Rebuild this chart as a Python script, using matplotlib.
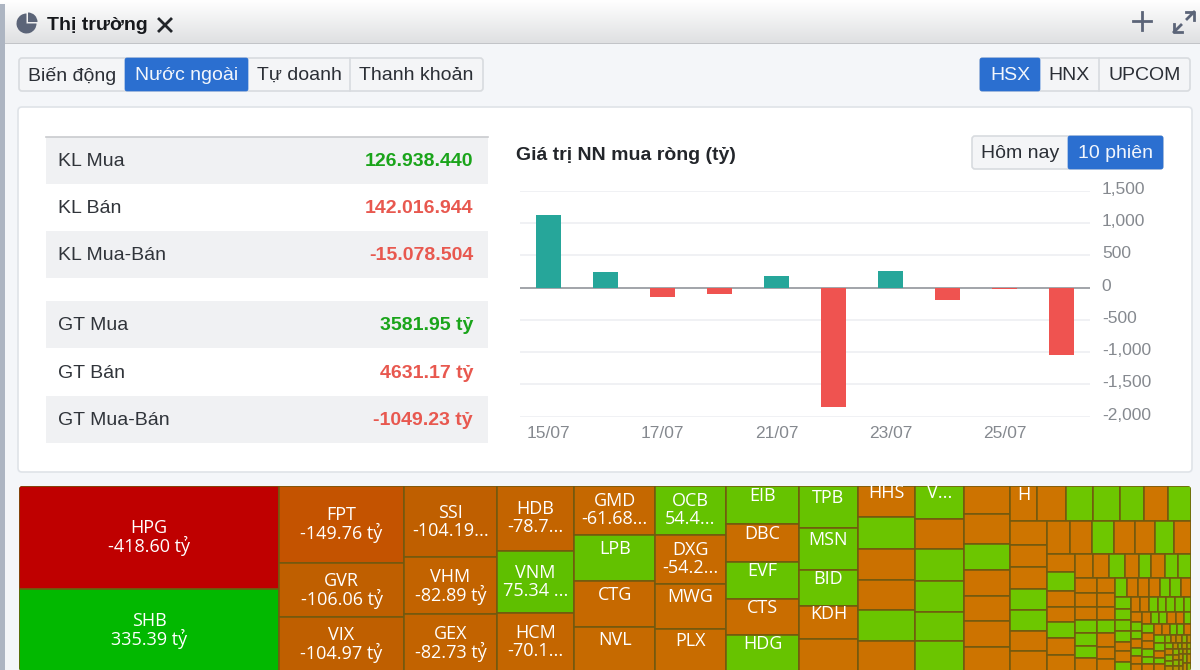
import numpy as np
import matplotlib
matplotlib.use('Agg')
import matplotlib.pyplot as plt
from itertools import zip_longest
from matplotlib.colors import LinearSegmentedColormap
from matplotlib.patches import FancyBboxPatch, Rectangle, Wedge
from matplotlib.transforms import ScaledTranslation

plt.rcParams['font.family'] = ['Liberation Sans', 'DejaVu Sans']

# net foreign value by session
session_dates = ['15/07', '16/07', '17/07', '18/07', '21/07', '22/07', '23/07', '24/07', '25/07', '28/07']
net_values = [1120, 237, -145, -93, 186, -1853, 253, -196, -30, -1049]
y_ticks = [1500, 1000, 500, 0, -500, -1000, -1500, -2000]
y_tick_labels = ['1,500', '1,000', '500', '0', '-500', '-1,000', '-1,500', '-2,000']

# summary table
table_labels = ['KL Mua', 'KL Bán', 'KL Mua-Bán', 'GT Mua', 'GT Bán', 'GT Mua-Bán']
table_values = ['126.938.440', '142.016.944', '-15.078.504', '3581.95 tỷ', '4631.17 tỷ', '-1049.23 tỷ']

market_tabs = ['Biến động', 'Nước ngoài', 'Tự doanh', 'Thanh khoản']
exchange_tabs = ['HSX', 'HNX', 'UPCOM']
range_tabs = ['Hôm nay', '10 phiên']

# treemap: signed value per cell, grouped in strips. 'c' strips fill the left of
# what is left, 'r' strips fill the top of what is left
strip_values = [
    [-418.60, 335.39],
    [-149.76, -106.06, -104.97],
    [-104.19, -82.89, -82.73],
    [-78.7, 75.34, -70.1],
    [-61.68, 58, -58, -56],
    [54.4, -54.2, -50, -47],
    [43.5, -43.5, 43, -41.5, 41],
    [38.4, 38.4, 33, -30, -29],
    [-28, 29, -28, -27, 28, -27],
    [25, -23, 24.5, 23.5, 22, 23],
    [-20.5, -21.2, 18.4, -19, -18, -18.7, -17.3],
    [-15.2, -15.8, 15, 14.7, 13.6, -13.2, 12.7],
    [-13.7, -12.8, -13.1, 12.2, 12.2, -11.9, -11.6],
    [-11.7, -11.1, 11.1, -10.6, -10.6, 9.7, -8.4],
    [-7.9, 8.3, -7.2, -6.8, 7, -7.4, -7],
    [-6.6, -6.2, 6.2, -5.1, 4.9, -5.3, 4.9, 4.9],
    [-5, -4.7, -4.3, 4.3, 4.4, 4.2, -4.3],
    [-4.3, -4, -3.7, 3.7, -4.2, -3.4, -3.5],
    [3.5, -3.2, -3.4, -3.4, 3, 3.2, -3],
    [2.76, 2.67, 2.67, 2.6, -2.3, -2.6, 2.2],
    [-2.1, -2.2, 2.1, 2, 2.1, 2, 1.7],
    [-1.8, 1.5, 1.5, -1.5, 1.6, -1.3, -1.3],
    [-1.7, 1.5, 1.5, -1.6, -1.5, 1.4],
    [1.7, -1.6, -1.6, 1.5, 1.4, -1.3],
    [-1.3, -1.25, 1.2, 1.2, -1.1],
    [1.3, 1.3, -1.2, 1.1, -1.1],
    [0.7, -0.7, -0.65, 0.6, -0.55],
    [0.8, -0.75, 0.7, 0.7, -0.62],
    [-0.48, 0.46, -0.44, 0.42],
    [0.5, -0.48, 0.47, -0.45],
    [0.33, -0.31, 0.3],
    [-0.38, 0.36, -0.33],
    [0.55, -0.55],
    [-0.55, 0.52],
]
strip_dirs = list('ccccccccccc' + 'rcrcrcc' + 'rcrcrcrcrcrcrc' + 'cc')
strip_names = [
    ['HPG', 'SHB'],
    ['FPT', 'GVR', 'VIX'],
    ['SSI', 'VHM', 'GEX'],
    ['HDB', 'VNM', 'HCM'],
    ['GMD', 'LPB', 'CTG', 'NVL'],
    ['OCB', 'DXG', 'MWG', 'PLX'],
    ['EIB', 'DBC', 'EVF', 'CTS', 'HDG'],
    ['TPB', 'MSN', 'BID', 'KDH'],
    ['HHS'],
    ['V...'],
    [],
    ['H'],
]
value_text = {
    'HPG': '-418.60 tỷ', 'SHB': '335.39 tỷ', 'FPT': '-149.76 tỷ', 'GVR': '-106.06 tỷ',
    'VIX': '-104.97 tỷ', 'SSI': '-104.19...', 'VHM': '-82.89 tỷ', 'GEX': '-82.73 tỷ',
    'HDB': '-78.7...', 'VNM': '75.34 ...', 'HCM': '-70.1...', 'GMD': '-61.68...',
    'OCB': '54.4...', 'DXG': '-54.2...',
}

GREEN = '#1aa41a'
RED = '#e8584f'
BLUE = '#2b6fd0'
DARK = '#2b2f36'
ICON = '#5b6478'
TM_FONT = ['Open Sans', 'DejaVu Sans']

fig = plt.figure(figsize=(12, 6.7), dpi=100, facecolor='#f4f6f9')

# whole page in pixel coordinates, y going down
ax = fig.add_axes([0, 0, 1, 1])
ax.set_axis_off()
ax.imshow(np.linspace(1, 0, 64).reshape(-1, 1), extent=[0, 1200, 43, 0], aspect='auto',
          cmap=LinearSegmentedColormap.from_list('bar', ['#dfe0e2', '#ffffff']), zorder=0)
ax.set_xlim(0, 1200)
ax.set_ylim(670, 0)
ax.add_patch(Rectangle((0, 42.5), 1200, 1.5, fc='#c2c4c8', ec='none', zorder=1))
ax.add_patch(Rectangle((0, 4), 4.5, 666, fc='#adb5c2', ec='none', zorder=1))


def label(x, y, s, size=14, color=DARK, ha='left', weight='normal', family=None, z=5):
    return ax.text(x, y, s, fontsize=size, color=color, ha=ha, va='center_baseline',
                   fontweight=weight, family=family, zorder=z)


def button_group(edges, names, active, y0=58, y1=91):
    ax.add_patch(FancyBboxPatch((edges[0], y0), edges[-1] - edges[0], y1 - y0,
                                boxstyle='round,pad=0,rounding_size=3', fc='#f4f5f7', ec='#d8dbdf', lw=1.2, zorder=2))
    for i, name in enumerate(names):
        if i == active:
            ax.add_patch(FancyBboxPatch((edges[i], y0), edges[i + 1] - edges[i], y1 - y0,
                                        boxstyle='round,pad=0,rounding_size=2', fc=BLUE, ec=BLUE, lw=0.5, zorder=3))
        elif i > 0 and i - 1 != active:
            ax.plot([edges[i]] * 2, [y0, y1], color='#d8dbdf', lw=1.2, zorder=3)
        label((edges[i] + edges[i + 1]) / 2, (y0 + y1) / 2 - 0.7, name, ha='center',
              color='#f2f6fc' if i == active else DARK)


# title bar
ax.add_patch(Wedge((26.5, 23.5), 10, 0, 270, fc=ICON, ec='none', zorder=3))
ax.add_patch(Wedge((28, 22), 9.5, 270, 360, fc=ICON, ec='none', zorder=3))
label(47, 24, 'Thị trường', weight='bold', color='#16181c')
ax.plot([159, 171], [19, 31], color='#22252a', lw=2, zorder=3)
ax.plot([159, 171], [31, 19], color='#22252a', lw=2, zorder=3)
ax.plot([1133, 1151], [21, 21], color=ICON, lw=2, zorder=3)
ax.plot([1142, 1142], [12, 30], color=ICON, lw=2, zorder=3)
ax.plot([1186, 1194, 1194], [12, 12, 20], color=ICON, lw=2, zorder=3)
ax.plot([1194, 1187], [12, 19], color=ICON, lw=2, zorder=3)
ax.plot([1174, 1174, 1182], [24, 32, 32], color=ICON, lw=2, zorder=3)
ax.plot([1174, 1181], [32, 25], color=ICON, lw=2, zorder=3)

button_group([19, 125, 248, 350, 483], market_tabs, 1)
button_group([980, 1040, 1099, 1190], exchange_tabs, 0)

# white panel
ax.add_patch(FancyBboxPatch((18, 107), 1174, 365, boxstyle='round,pad=0,rounding_size=4',
                            fc='white', ec='#dfe3e8', lw=1.2, zorder=1))

# table
row_tops = [137, 184, 231, 301, 349, 396]
row_h = 47
ax.plot([46, 488], [137, 137], color='#c9cbce', lw=1.2, zorder=3)
for i, (name, val) in enumerate(zip(table_labels, table_values)):
    if i != 1 and i != 4:
        ax.add_patch(Rectangle((46, row_tops[i]), 442, row_h, fc='#f0f1f3', ec='none', zorder=2))
    yc = row_tops[i] + row_h / 2 - 0.7
    label(58, yc, name, color='#30343a')
    label(473, yc, val, ha='right', weight='bold', color=GREEN if i in (0, 3) else RED)

# chart header and range toggle
label(516, 153, 'Giá trị NN mua ròng (tỷ)', weight='bold', color='#23262b')
button_group([972, 1068, 1163], range_tabs, 1, y0=136, y1=169)

# treemap, every cell from the strip values
tm_x, tm_y, tm_w, tm_h = 19.0, 486.0, 1172.0, 185.0
k = tm_w * tm_h / sum(abs(v) for s in strip_values for v in s)
tm_clip = FancyBboxPatch((tm_x, tm_y), tm_w, tm_h, boxstyle='round,pad=0,rounding_size=4',
                         fc='#71590f', ec='none', zorder=2)
ax.add_patch(tm_clip)
vmin, vmax = -420.0, 340.0
stops = [(-420, '#bf0000'), (-150, '#c45300'), (-105, '#bf5f00'), (-70, '#c46600'), (-1, '#d07800'),
         (1, '#70c800'), (75, '#5fbf00'), (340, '#00b800')]
cmap = LinearSegmentedColormap.from_list('tm', [((v - vmin) / (vmax - vmin), c) for v, c in stops], N=4096)

rx, ry, rw, rh = tm_x, tm_y, tm_w, tm_h
for i, (direction, vals) in enumerate(zip(strip_dirs, strip_values)):
    names = strip_names[i] if i < len(strip_names) else []
    total = sum(abs(v) for v in vals)
    thick = total * k / (rh if direction == 'c' else rw)
    cx, cy = rx, ry
    for v, name in zip_longest(vals, names, fillvalue=''):
        if direction == 'c':
            w, h = thick, abs(v) * k / thick
        else:
            w, h = abs(v) * k / thick, thick
        cell = Rectangle((cx, cy), w, h, fc=cmap((v - vmin) / (vmax - vmin)), ec='#71590f', lw=1.1, zorder=3)
        ax.add_patch(cell)
        cell.set_clip_path(tm_clip)
        if name:
            mid = cy + h / 2
            t1 = label(cx + w / 2, mid - 11, name, size=13, color='white', ha='center', family=TM_FONT)
            t1.set_clip_path(cell)
            if name in value_text:
                t2 = label(cx + w / 2, mid + 7, value_text[name], size=13, color='white', ha='center', family=TM_FONT)
                t2.set_clip_path(cell)
        if direction == 'c':
            cy += h
        else:
            cx += w
    if direction == 'c':
        rx += thick
        rw -= thick
    else:
        ry += thick
        rh -= thick

# bar chart
ax2 = fig.add_axes([520 / 1200, 1 - 416.7 / 670, 570 / 1200, 226 / 670], zorder=4)
ax2.patch.set_alpha(0)
bar_colors = ['#26a69a' if v >= 0 else '#ef5350' for v in net_values]
ax2.bar(range(len(net_values)), net_values, width=0.44, color=bar_colors, zorder=3)
ax2.set_xlim(-0.5, 9.5)
ax2.set_ylim(-2000, 1500)
ax2.axhline(0, color='#8c9096', lw=1.1, zorder=2)
ax2.grid(axis='y', color='#eceef1', lw=1.1, zorder=0)
for s in ax2.spines.values():
    s.set_visible(False)
ax2.yaxis.tick_right()
ax2.set_yticks(y_ticks, labels=y_tick_labels)
ax2.set_xticks(range(0, 10, 2), labels=session_dates[::2])
ax2.tick_params(axis='both', length=0, labelsize=12.5, labelcolor='#85898f')
ax2.tick_params(axis='y', pad=8.5)
ax2.tick_params(axis='x', pad=7)
up = ScaledTranslation(0, 3 / 100, fig.dpi_scale_trans)
for t in ax2.get_yticklabels():
    t.set_transform(t.get_transform() + up)

fig.savefig('out.png', dpi=100, facecolor=fig.get_facecolor())
